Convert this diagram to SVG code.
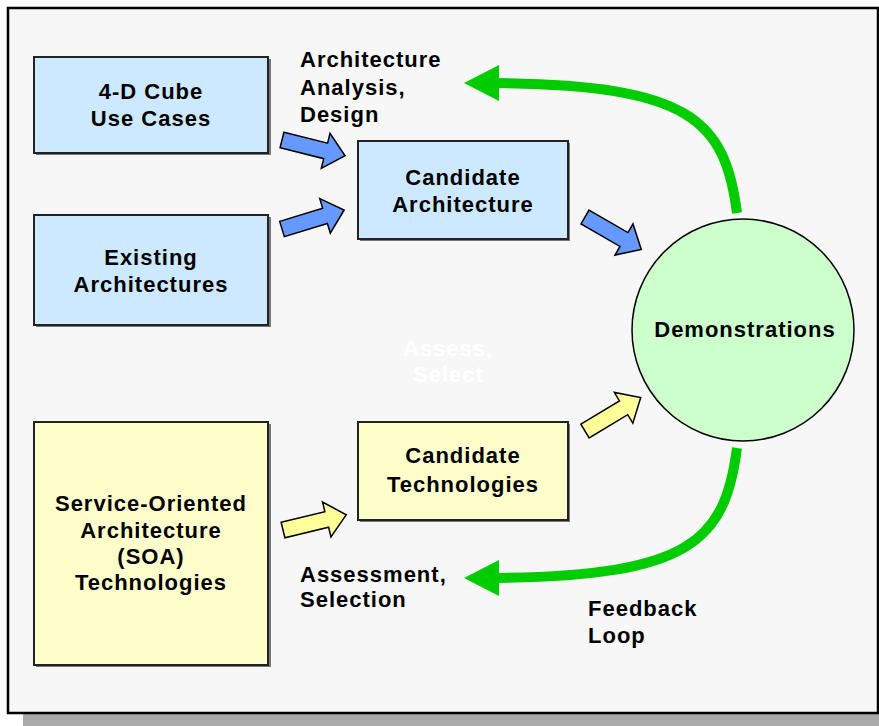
<svg xmlns="http://www.w3.org/2000/svg" width="879" height="726" viewBox="0 0 879 726">
<style>
  .t { font-family: "Liberation Sans", Arial, sans-serif; font-weight: bold; font-size: 22px; letter-spacing: 1px; fill: #000; }
  .c { text-anchor: middle; }
  .w { fill: #ffffff; }
  .box { stroke: #222; stroke-width: 2; }
  .blue { fill: #cce9ff; }
  .yellow { fill: #ffffcc; }
  .sh { fill: #777; }
  .ba { fill: #6699ff; stroke: #000; stroke-width: 1.5; stroke-linejoin: miter; }
  .ya { fill: #ffff99; stroke: #000; stroke-width: 1.5; stroke-linejoin: miter; }
  .g { fill: none; stroke: #00cc00; stroke-width: 10; }
  .gh { fill: #00cc00; }
</style>
<defs>
  <path id="blk" d="M0,-8 L45,-8 L45,-18 L65,0 L45,18 L45,8 L0,8 Z"/>
</defs>
<rect x="23" y="714" width="856" height="12" fill="#aaaaaa"/>
<rect x="8" y="8" width="870" height="705" fill="#f7f7f7" stroke="#000" stroke-width="2.5"/>

<g id="n-cube">
  <rect class="sh" x="36" y="59" width="235" height="96"/>
  <rect class="box blue" x="34" y="57" width="234" height="96"/>
  <text class="t c" x="151" y="99">4-D Cube</text>
  <text class="t c" x="151" y="126">Use Cases</text>
</g>
<g id="n-existing">
  <rect class="sh" x="36" y="217" width="235" height="110"/>
  <rect class="box blue" x="34" y="215" width="234" height="110"/>
  <text class="t c" x="151" y="265">Existing</text>
  <text class="t c" x="151" y="292">Architectures</text>
</g>
<g id="n-candarch">
  <rect class="sh" x="360" y="143" width="210" height="98"/>
  <rect class="box blue" x="358" y="141" width="210" height="98"/>
  <text class="t c" x="463" y="185">Candidate</text>
  <text class="t c" x="463" y="212">Architecture</text>
</g>
<g id="n-soa">
  <rect class="sh" x="36" y="424" width="235" height="243"/>
  <rect class="box yellow" x="34" y="422" width="234" height="243"/>
  <text class="t c" x="151" y="511">Service-Oriented</text>
  <text class="t c" x="151" y="538">Architecture</text>
  <text class="t c" x="151" y="564">(SOA)</text>
  <text class="t c" x="151" y="590">Technologies</text>
</g>
<g id="n-candtech">
  <rect class="sh" x="360" y="424" width="210" height="98"/>
  <rect class="box yellow" x="358" y="422" width="210" height="98"/>
  <text class="t c" x="463" y="463">Candidate</text>
  <text class="t c" x="463" y="492">Technologies</text>
</g>
<g id="n-demo">
  <circle cx="743" cy="330" r="111" fill="#ccffcc" stroke="#000" stroke-width="1.5"/>
  <text class="t c" x="745" y="337">Demonstrations</text>
</g>

<g id="connectors">
  <use href="#blk" class="ba" transform="translate(282,140) rotate(14)"/>
  <use href="#blk" class="ba" transform="translate(282,229) rotate(-17)"/>
  <use href="#blk" class="ba" transform="translate(585,217) rotate(30)"/>
  <use href="#blk" class="ya" transform="translate(283,530) rotate(-13.5)"/>
  <use href="#blk" class="ya" transform="translate(585,431) rotate(-31)"/>
  <path class="g" d="M737,213 C725,120 690,85 497,83"/>
  <polygon class="gh" points="464,83 499,65 499,101"/>
  <path class="g" d="M737,448 C725,541 690,576 497,578"/>
  <polygon class="gh" points="464,578 499,560 499,596"/>
</g>

<g id="labels">
  <text class="t" x="300" y="67">Architecture</text>
  <text class="t" x="300" y="95">Analysis,</text>
  <text class="t" x="300" y="122">Design</text>
  <text class="t w" x="403" y="356">Assess,</text>
  <text class="t w" x="413" y="382">Select</text>
  <text class="t" x="300" y="582">Assessment,</text>
  <text class="t" x="300" y="607">Selection</text>
  <text class="t" x="588" y="616">Feedback</text>
  <text class="t" x="588" y="643">Loop</text>
</g>
</svg>
